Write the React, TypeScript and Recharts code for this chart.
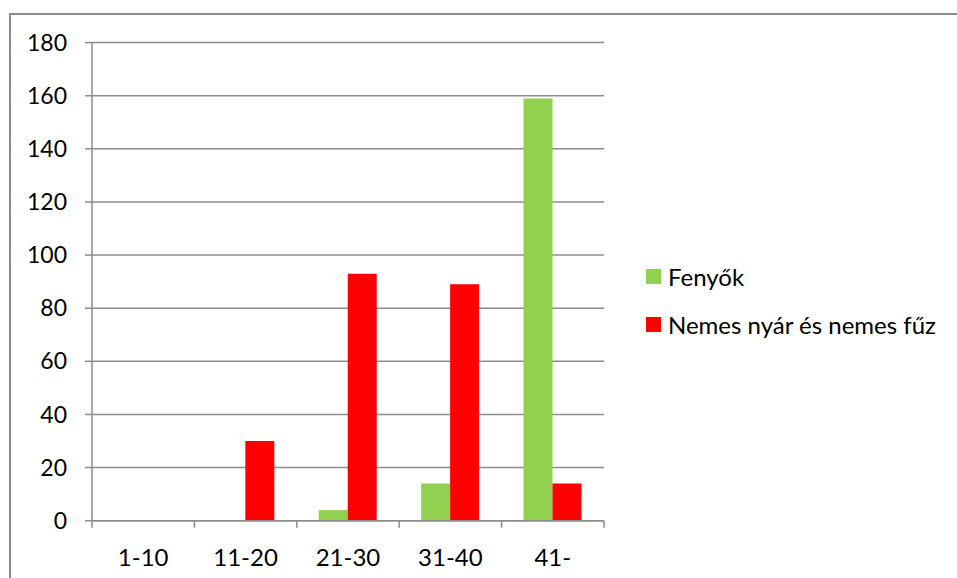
import { BarChart, Bar, XAxis, YAxis, CartesianGrid, Legend } from 'recharts'

const categories = ['1-10', '11-20', '21-30', '31-40', '41-']
const fenyok = [0, 0, 4, 14, 159]
const nemesNyar = [0, 30, 93, 89, 14]
const yTicks = [0, 20, 40, 60, 80, 100, 120, 140, 160, 180]

const seriesNames = ['Fenyők', 'Nemes nyár és nemes fűz']
const colors = ['#92d050', '#ff0000']

const data = categories.map((c, i) => ({
  name: c,
  fenyok: fenyok[i],
  nemes: nemesNyar[i],
}))

const FONT = 'Lato, "Open Sans", sans-serif'
const GRID = '#8c8c8c'
const TICK_MARGIN = 21

function XTick(props: any) {
  const { x, y, payload, index } = props
  const half = payload?.offset ?? 51.2
  const axisY = y - 7 - TICK_MARGIN
  return (
    <g>
      <line x1={x - half} x2={x - half} y1={axisY} y2={axisY + 7} stroke={GRID} strokeWidth={1.5} />
      {index === categories.length - 1 && (
        <line x1={x + half} x2={x + half} y1={axisY} y2={axisY + 7} stroke={GRID} strokeWidth={1.5} />
      )}
      <text x={x} y={y} textAnchor="middle" dy="0.71em" fill="#000" fontSize={24} fontFamily={FONT}>
        {payload.value}
      </text>
    </g>
  )
}

function LegendBox() {
  return (
    <div style={{ fontFamily: FONT, fontSize: 24, color: '#000' }}>
      {seriesNames.map((n, i) => (
        <div key={n} style={{ display: 'flex', alignItems: 'center', height: 48 }}>
          <span style={{ width: 15, height: 15, background: colors[i], marginRight: 7, display: 'inline-block' }} />
          <span>{n}</span>
        </div>
      ))}
    </div>
  )
}

export default function App() {
  return (
    <div style={{ position: 'absolute', left: 0, top: 0, width: 957, height: 578, overflow: 'hidden', background: '#fff' }}>
      <div
        style={{
          position: 'absolute',
          left: 9,
          top: 13,
          width: 1000,
          height: 700,
          border: `2px solid ${GRID}`,
          boxSizing: 'border-box',
        }}
      />
      <div style={{ position: 'absolute', left: 0, top: 0 }}>
        <BarChart
          width={957}
          height={578}
          data={data}
          margin={{ top: 42.6, right: 353, bottom: 27.3, left: 32 }}
          barCategoryGap="21.4%"
          barGap={0}
        >
          <CartesianGrid vertical={false} stroke={GRID} strokeWidth={1.5} />
          <YAxis
            domain={[0, 180]}
            ticks={yTicks}
            interval={0}
            width={60}
            axisLine={{ stroke: GRID, strokeWidth: 1.5 }}
            tickLine={{ stroke: GRID, strokeWidth: 1.5 }}
            tickSize={7}
            tickMargin={18}
            tick={{ fill: '#000', fontSize: 23, fontFamily: FONT }}
          />
          <XAxis
            dataKey="name"
            height={30}
            axisLine={{ stroke: GRID, strokeWidth: 1.5 }}
            tickLine={false}
            tickSize={7}
            tickMargin={TICK_MARGIN}
            interval={0}
            tick={<XTick />}
          />
          <Legend
            verticalAlign="middle"
            layout="horizontal"
            content={<LegendBox />}
            wrapperStyle={{ position: 'absolute', left: 646, top: 252, width: 310 }}
          />
          <Bar dataKey="fenyok" name={seriesNames[0]} fill={colors[0]} isAnimationActive={false} />
          <Bar dataKey="nemes" name={seriesNames[1]} fill={colors[1]} isAnimationActive={false} />
        </BarChart>
      </div>
    </div>
  )
}
